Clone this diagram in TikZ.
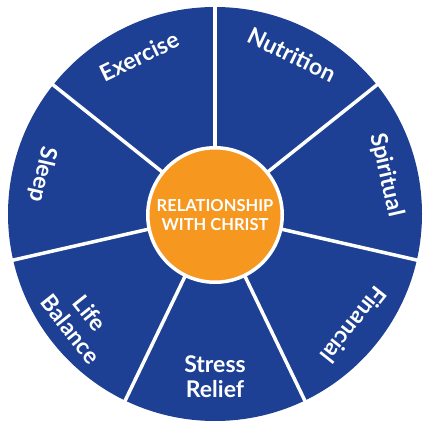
\documentclass[tikz,border=0pt]{standalone}
\usepackage{fontspec}
\setmainfont{Lato}
\definecolor{wheelblue}{RGB}{29,64,148}
\definecolor{hubfill}{RGB}{246,151,32}
\tikzset{
  spoke/.style={white,line width=3.5pt},
  area/.style={text=white,font=\bfseries\fontsize{23}{25}\selectfont,align=center,inner sep=0pt},
  hubnode/.style={circle,fill=hubfill,draw=white,line width=3.5pt,minimum size=134.5pt,inner sep=0pt,
    text=white,font=\bfseries\fontsize{16.5}{18.5}\selectfont,align=center}
}

\begin{document}
\begin{tikzpicture}[x=1pt,y=1pt]
            \useasboundingbox (-215,-216) rectangle (215,214);

            \fill[wheelblue] (0,0) circle (207);

            % spokes between the seven areas
            \draw[spoke] (0:0) to (90:209);
            \draw[spoke] (0:0) to (38.57:209);
            \draw[spoke] (0:0) to (-12.86:209);
            \draw[spoke] (0:0) to (-64.29:209);
            \draw[spoke] (0:0) to (-115.71:209);
            \draw[spoke] (0:0) to (-167.14:209);
            \draw[spoke] (0:0) to (141.43:209);

            \node[hubnode] (hub) at (0,-1) {RELATIONSHIP\\WITH CHRIST};

            \node[area,rotate=-25.71] (nutrition) at (64.29:177) {Nutrition};
            \node[area,rotate=-77.14] (spiritual) at (12.86:176) {Spiritual};
            \node[area,rotate=-128.57] (financial) at (-38.57:178) {Financial};
            \node[area] (stress) at (-90:163) {Stress\\Relief};
            \node[area,rotate=-51.43] (balance) at (-141.43:172) {Life\\Balance};
            \node[area,rotate=-102.86] (sleep) at (167.14:177) {Sleep};
            \node[area,rotate=25.71] (exercise) at (115.71:175) {Exercise};
        \end{tikzpicture}
\end{document}
